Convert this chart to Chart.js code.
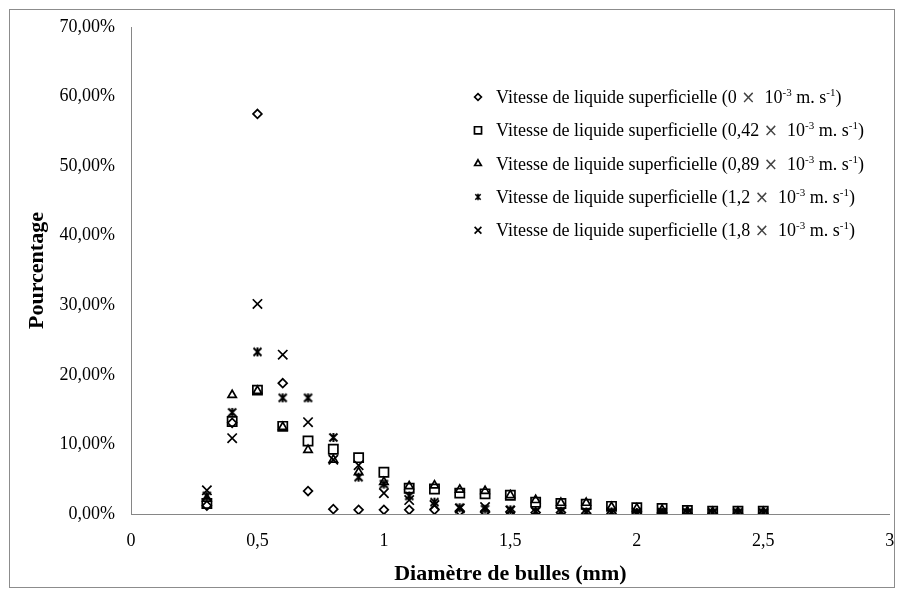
<!DOCTYPE html>
<html lang="fr">
<head>
<meta charset="UTF-8">
<title>Distribution des diamètres de bulles</title>
<script src="https://cdn.jsdelivr.net/npm/chart.js"></script>
<style>
  html, body { margin: 0; padding: 0; background: #fff; }
  canvas { display: block; }
</style>
</head>
<body>
<canvas id="chart" width="898" height="591"></canvas>
<script>
  // diamètres de bulles (mm)
  const diametres = [0.3, 0.4, 0.5, 0.6, 0.7, 0.8, 0.9, 1.0, 1.1, 1.2, 1.3, 1.4,
                     1.5, 1.6, 1.7, 1.8, 1.9, 2.0, 2.1, 2.2, 2.3, 2.4, 2.5];
  // vitesses de liquide superficielle (x 10^-3 m/s)
  const vitesses = ['0', '0,42', '0,89', '1,2', '1,8'];

  // pourcentages
  const v000 = [1.2, 13.1, 57.5, 18.8, 3.3, 0.7, 0.6, 0.6, 0.6, 0.6, 0.4, 0.3,
                0.3, 0.2, 0.2, 0.1, 0.1, 0.1, 0.1, 0.1, 0.1, 0.1, 0.1];
  const v042 = [1.5, 13.3, 17.8, 12.6, 10.5, 9.3, 8.1, 6.0, 3.7, 3.6, 3.0, 2.9,
                2.7, 1.7, 1.5, 1.4, 1.1, 0.9, 0.8, 0.5, 0.4, 0.4, 0.4];
  const v089 = [2.2, 17.1, 17.7, 12.5, 9.2, 7.8, 6.0, 4.6, 4.0, 4.1, 3.5, 3.3,
                2.7, 2.0, 1.6, 1.6, 1.0, 0.8, 0.6, 0.4, 0.3, 0.3, 0.3];
  const v120 = [2.6, 14.6, 23.3, 16.7, 16.7, 11.0, 5.3, 4.3, 2.6, 1.7, 0.9, 0.7,
                0.6, 0.4, 0.4, 0.3, 0.3, 0.2, 0.2, 0.2, 0.2, 0.2, 0.2];
  const v180 = [3.4, 10.9, 30.2, 22.9, 13.2, 7.8, 7.0, 3.0, 2.0, 1.3, 0.8, 1.0,
                0.5, 0.3, 0.3, 0.2, 0.2, 0.2, 0.2, 0.1, 0.1, 0.1, 0.1];

  const serif = "'Liberation Serif', 'Times New Roman', serif";

  // marqueur étoile façon Excel (X + trait vertical)
  function makeStar(size, lw) {
    const c = document.createElement('canvas');
    c.width = c.height = size;
    const g = c.getContext('2d');
    g.strokeStyle = '#000';
    g.lineWidth = lw;
    const m = lw / 2 + 0.5, e = size - m;
    g.beginPath();
    g.moveTo(m, m); g.lineTo(e, e);
    g.moveTo(e, m); g.lineTo(m, e);
    g.moveTo(size / 2, m - 0.5); g.lineTo(size / 2, e + 0.5);
    g.stroke();
    return c;
  }
  const starBig = makeStar(11, 2);
  const starSmall = makeStar(8, 1.6);

  const series = [
    { data: v000, style: 'rectRot',  radius: 4.4, legendStyle: 'rectRot',  legendRadius: 3.4 },
    { data: v042, style: 'rect',     radius: 6.5, legendStyle: 'rect',     legendRadius: 5 },
    { data: v089, style: 'triangle', radius: 4.8, legendStyle: 'triangle', legendRadius: 3.8 },
    { data: v120, style: starBig,    radius: 5.5, legendStyle: starSmall,  legendRadius: 4 },
    { data: v180, style: 'crossRot', radius: 6.6, legendStyle: 'crossRot', legendRadius: 4.8 }
  ];

  const datasets = series.map((s, i) => ({
    label: 'Vitesse de liquide superficielle (' + vitesses[i] + ' × 10-3 m. s-1)',
    data: diametres.map((d, k) => ({ x: d, y: s.data[k] })),
    pointStyle: s.style,
    pointRadius: s.radius,
    pointHoverRadius: s.radius,
    pointBorderWidth: 1.7,
    borderColor: '#000',
    backgroundColor: 'rgba(0,0,0,0)',
    showLine: false,
    order: -i
  }));

  // cadre gris autour de la figure
  const framePlugin = {
    id: 'frame',
    beforeDraw(chart) {
      const ctx = chart.ctx;
      ctx.save();
      ctx.fillStyle = '#fff';
      ctx.fillRect(0, 0, chart.width, chart.height);
      ctx.strokeStyle = '#8c8c8c';
      ctx.lineWidth = 1;
      ctx.strokeRect(9.5, 9.5, chart.width - 13, chart.height - 13);
      ctx.restore();
    }
  };

  // légende avec exposants
  const legendPlugin = {
    id: 'richLegend',
    afterDraw(chart) {
      const ctx = chart.ctx;
      const x0 = 478, tx = 496, y0 = 97, dy = 33.3;
      ctx.save();
      series.forEach((s, i) => {
        const y = y0 + i * dy;
        ctx.strokeStyle = '#000';
        ctx.fillStyle = 'rgba(0,0,0,0)';
        ctx.lineWidth = 1.7;
        Chart.helpers.drawPoint(ctx, {
          pointStyle: s.legendStyle, radius: s.legendRadius, borderWidth: 1.7, rotation: 0
        }, x0, y);

        const parts = [
          { t: 'Vitesse de liquide superficielle (' + vitesses[i] + ' ', f: '18px ' + serif, dy: 0 },
          { t: '×', f: '17px "DejaVu Sans"', dy: 0, c: '#444' },
          { t: '  10', f: '18px ' + serif, dy: 0 },
          { t: '-3', f: '11px ' + serif, dy: -7 },
          { t: ' m. s', f: '18px ' + serif, dy: 0 },
          { t: '-1', f: '11px ' + serif, dy: -7 },
          { t: ')', f: '18px ' + serif, dy: 0 }
        ];
        let x = tx;
        ctx.textBaseline = 'alphabetic';
        ctx.textAlign = 'left';
        parts.forEach(p => {
          ctx.font = p.f;
          ctx.fillStyle = p.c || '#000';
          ctx.fillText(p.t, x, y + 6 + p.dy);
          x += ctx.measureText(p.t).width;
        });
      });
      ctx.restore();
    }
  };

  const ctx = document.getElementById('chart').getContext('2d');
  new Chart(ctx, {
    type: 'scatter',
    data: { datasets },
    options: {
      responsive: false,
      animation: false,
      events: [],
      layout: { padding: { top: 27, right: 7, left: 0, bottom: 0 } },
      plugins: {
        legend: { display: false },
        tooltip: { enabled: false }
      },
      scales: {
        x: {
          type: 'linear',
          min: 0,
          max: 3,
          afterFit: s => { s.height = 77; s.paddingLeft = 0; s.paddingRight = 0; },
          ticks: {
            stepSize: 0.5,
            color: '#000',
            padding: 16,
            font: { family: serif, size: 18 },
            callback: v => String(v).replace('.', ',')
          },
          grid: { display: false, drawTicks: false },
          border: { display: true, color: '#868686', width: 1 },
          title: {
            display: true,
            text: 'Diamètre de bulles (mm)',
            color: '#000',
            font: { family: serif, size: 22, weight: 'bold' },
            padding: { top: 0, bottom: 3 }
          }
        },
        y: {
          min: 0,
          max: 70,
          afterFit: s => { s.width = 131; s.paddingTop = 0; s.paddingBottom = 0; },
          ticks: {
            stepSize: 10,
            color: '#000',
            padding: 16,
            font: { family: serif, size: 18 },
            callback: v => v.toFixed(2).replace('.', ',') + '%'
          },
          grid: { display: false, drawTicks: false },
          border: { display: true, color: '#868686', width: 1 },
          title: {
            display: true,
            text: 'Pourcentage',
            color: '#000',
            font: { family: serif, size: 22, weight: 'bold' },
            padding: { top: 24, bottom: 0 }
          }
        }
      }
    },
    plugins: [framePlugin, legendPlugin]
  });
</script>
</body>
</html>
